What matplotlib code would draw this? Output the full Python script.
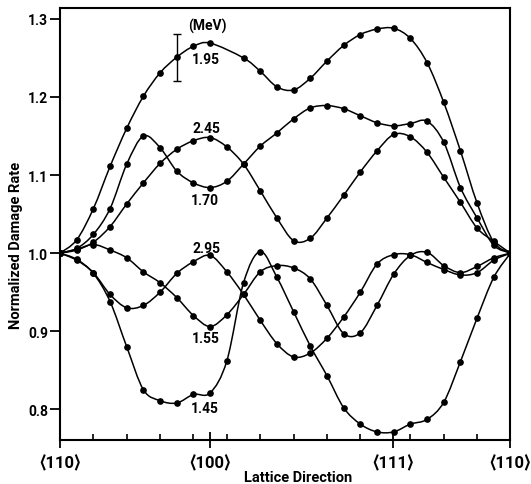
import numpy as np
import matplotlib
matplotlib.use("Agg")
import matplotlib.pyplot as plt
from matplotlib.path import Path
from matplotlib.patches import PathPatch

# Angle along the stereographic path <110> -> <100> -> <111> -> <110>, degrees
angles = np.arange(0, 136, 5)

# Normalized damage rate per electron energy (MeV); nan = no measured point
rate_1_95 = [1.000, 1.017, 1.057, 1.111, 1.160, 1.201, 1.231, 1.251, 1.265, 1.269,
             np.nan, 1.250, 1.233, 1.213, 1.209, 1.224, 1.246, 1.266, 1.280, 1.287,
             1.288, 1.275, 1.244, 1.193, 1.131, 1.064, 1.014, 1.000]
rate_2_45 = [1.000, 1.004, 1.014, 1.034, 1.063, 1.090, 1.115, 1.133, 1.144, 1.148,
             1.136, 1.114, 1.080, 1.045, 1.016, 1.019, 1.045, 1.074, 1.104, 1.131,
             1.152, 1.149, 1.129, 1.097, 1.065, 1.032, 1.015, 1.000]
rate_1_70 = [1.000, 1.006, 1.024, 1.057, 1.114, 1.150, 1.135, 1.105, 1.090, 1.084,
             1.092, 1.114, 1.137, 1.154, 1.172, 1.186, 1.189, 1.185, 1.176, 1.167,
             1.163, 1.166, 1.169, 1.142, 1.084, 1.045, 1.010, 1.000]
rate_2_95 = [1.000, 0.991, 0.975, 0.947, 0.930, 0.933, 0.950, 0.974, 0.989, 0.997,
             0.976, 0.947, 0.914, 0.884, 0.867, 0.872, 0.891, 0.918, 0.950, 0.986,
             0.998, 0.998, 0.988, 0.979, 0.972, 0.975, 0.991, 1.000]
rate_1_55 = [1.000, 1.005, 1.011, 1.004, 0.994, 0.976, 0.962, 0.943, 0.920, 0.906,
             0.921, 0.947, 0.976, 0.984, 0.981, 0.967, 0.933, 0.897, 0.898, 0.933,
             0.973, 0.997, 1.001, 0.984, 0.975, 0.983, 0.994, 1.000]
rate_1_45 = [1.000, 0.992, 0.974, 0.938, 0.880, 0.825, 0.811, 0.808, 0.819, 0.821,
             0.862, 0.962, 1.002, 0.969, 0.925, 0.881, 0.843, 0.802, 0.781, 0.771,
             0.771, 0.781, 0.787, 0.809, 0.861, 0.917, 0.969, 1.000]

energy_labels = ["1.95", "2.45", "1.70", "2.95", "1.55", "1.45"]
series = [rate_1_95, rate_2_45, rate_1_70, rate_2_95, rate_1_55, rate_1_45]

# Representative error bar on the 1.95 MeV curve
err_angle = 35
err_value = 1.251
err_size = 0.030

direction_ticks = [0, 45, 99.74, 135]
direction_labels = ["\u27e8110\u27e9", "\u27e8100\u27e9", "\u27e8111\u27e9", "\u27e8110\u27e9"]
minor_ticks = [10, 20, 30, 40, 50, 60, 70, 80, 90, 105, 115, 125]
rate_ticks = [0.8, 0.9, 1.0, 1.1, 1.2, 1.3]

FONT = ["Roboto", "DejaVu Sans"]
plt.rcParams["font.family"] = FONT
plt.rcParams["font.weight"] = "bold"


def smooth_path(x, y):
    """Catmull-Rom curve through the points, as cubic Bezier segments."""
    pts = np.column_stack([x, y])
    ext = np.vstack([pts[0], pts, pts[-1]])
    verts = [pts[0]]
    codes = [Path.MOVETO]
    for i in range(len(pts) - 1):
        p0, p1, p2, p3 = ext[i], ext[i + 1], ext[i + 2], ext[i + 3]
        verts += [p1 + (p2 - p0) / 6.0, p2 - (p3 - p1) / 6.0, p2]
        codes += [Path.CURVE4] * 3
    return Path(verts, codes)


fig = plt.figure(figsize=(5.31, 4.85), dpi=100)
ax = fig.add_axes([60 / 531, 1 - 440.7 / 485, 450.5 / 531, (440.7 - 9) / 485])

for vals in series:
    v = np.asarray(vals, dtype=float)
    ok = ~np.isnan(v)
    ax.add_patch(PathPatch(smooth_path(angles[ok], v[ok]), fill=False,
                           edgecolor="black", lw=1.1, zorder=2))
    ax.plot(angles[ok], v[ok], "o", color="black", ms=3.8, zorder=3)

ax.errorbar([err_angle], [err_value], yerr=[err_size], fmt="none",
            ecolor="black", elinewidth=1.0, capsize=3.2, capthick=1.0, zorder=3)

# Energy labels next to each curve at <100>
label_pos = {"1.95": (43.6, 1.2485), "2.45": (43.8, 1.160), "1.70": (43.4, 1.068),
             "2.95": (43.9, 1.007), "1.55": (43.8, 0.891), "1.45": (43.4, 0.802)}
for name in energy_labels:
    lx, ly = label_pos[name]
    ax.text(lx, ly, name, ha="center", va="center", fontsize=10, fontweight="bold")
ax.text(44.2, 1.2915, "(MeV)", ha="center", va="center", fontsize=10, fontweight="bold")

ax.set_xlim(0, 135)
ax.set_ylim(0.761, 1.314)

ax.set_xticks(direction_ticks)
ax.set_xticklabels(direction_labels, fontsize=12, fontweight="bold")
ax.set_xticks(minor_ticks, minor=True)
ax.tick_params(axis="x", which="major", direction="inout", length=12, width=1.3, pad=4)
ax.tick_params(axis="x", which="minor", direction="in", length=4, width=1.2)

ax.set_yticks(rate_ticks)
ax.set_yticklabels([f"{t:.1f}" for t in rate_ticks], fontsize=10, fontweight="bold")
ax.tick_params(axis="y", which="major", direction="out", length=7, width=1.3, pad=1.5)

for s in ax.spines.values():
    s.set_linewidth(1.5)

fig.text(16 / 531, 1 - 245 / 485, "Normalized Damage Rate", rotation=90,
         ha="center", va="center", fontsize=10.5, fontweight="bold")
fig.text(298 / 531, 1 - 478 / 485, "Lattice Direction",
         ha="center", va="center", fontsize=10.5, fontweight="bold")

fig.savefig("out.png", dpi=100)
